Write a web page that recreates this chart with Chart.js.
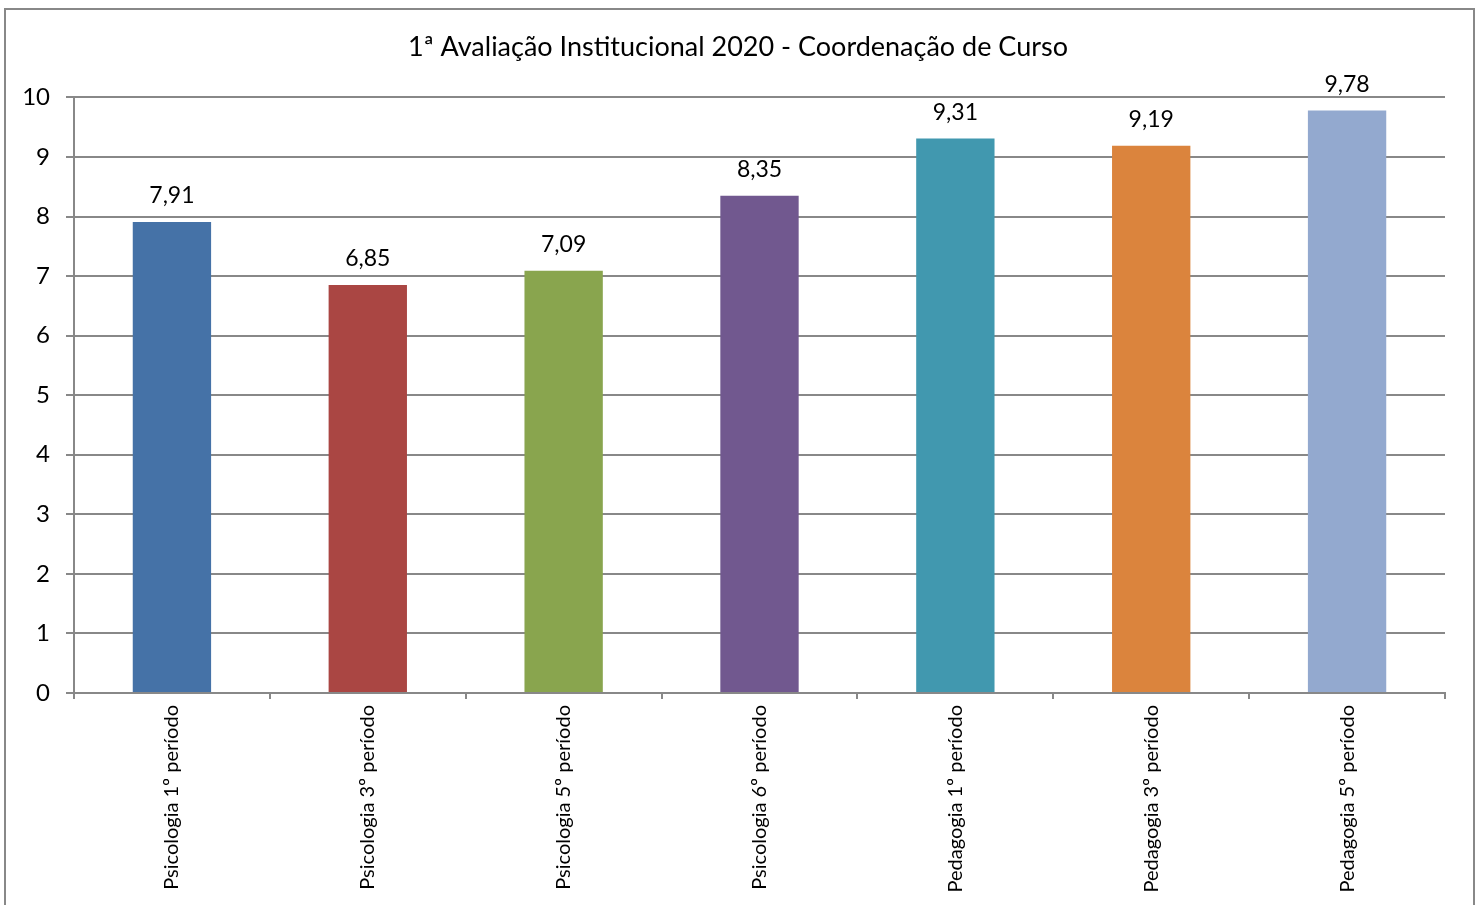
<!DOCTYPE html>
<html>
<head>
<meta charset="utf-8">
<script src="https://cdn.jsdelivr.net/npm/chart.js@4/dist/chart.umd.min.js"></script>
<style>
  html, body { margin: 0; padding: 0; background: #fff; }
  #wrap { position: absolute; left: 0; top: 0; width: 1476px; height: 905px; }
</style>
</head>
<body>
<div id="wrap"><canvas id="myChart" width="1476" height="905"></canvas></div>
<script>
// dados do grafico
var categories = ['Psicologia 1º período', 'Psicologia 3º período', 'Psicologia 5º período',
  'Psicologia 6º período', 'Pedagogia 1º período', 'Pedagogia 3º período', 'Pedagogia 5º período'];
var values = [7.91, 6.85, 7.09, 8.35, 9.31, 9.19, 9.78];
var barColors = ['#4572A7', '#AA4643', '#89A54E', '#71588F', '#4198AF', '#DB843D', '#93A9CF'];
var yTicks = [0, 1, 2, 3, 4, 5, 6, 7, 8, 9, 10];

var fontName = 'Lato, "Open Sans", sans-serif';

// moldura em volta do grafico
var framePlugin = {
  id: 'frame',
  beforeDraw: function(chart) {
    var c = chart.ctx;
    c.save();
    c.fillStyle = '#fff';
    c.fillRect(0, 0, chart.width, chart.height);
    c.strokeStyle = '#888';
    c.lineWidth = 2;
    c.strokeRect(5, 9, 1469, 920);
    c.restore();
  }
};

// valores em cima das barras
var labelPlugin = {
  id: 'barLabels',
  afterDatasetsDraw: function(chart) {
    var c = chart.ctx;
    var meta = chart.getDatasetMeta(0);
    c.save();
    c.font = '23px ' + fontName;
    c.fillStyle = '#000';
    c.textAlign = 'center';
    c.textBaseline = 'middle';
    meta.data.forEach(function(bar, i) {
      c.fillText(values[i].toFixed(2).replace('.', ','), bar.x, bar.y - 26);
    });
    c.restore();
  }
};

var ctx = document.getElementById('myChart').getContext('2d');
var myChart = new Chart(ctx, {
  type: 'bar',
  data: {
    labels: categories,
    datasets: [{
      data: values,
      backgroundColor: barColors,
      borderWidth: 0,
      categoryPercentage: 1,
      barPercentage: 0.4
    }]
  },
  options: {
    responsive: false,
    animation: false,
    layout: { padding: 0 },
    plugins: {
      legend: { display: false },
      tooltip: { enabled: false },
      title: {
        display: true,
        text: '1ª Avaliação Institucional 2020 - Coordenação de Curso',
        color: '#000',
        font: { family: fontName, size: 27, weight: 'normal' },
        padding: { top: 31, bottom: 34 }
      }
    },
    scales: {
      x: {
        offset: true,
        afterFit: function(s) { s.height = 212; },
        grid: { offset: true, drawOnChartArea: false, color: '#888', lineWidth: 2, tickLength: 6 },
        border: { color: '#888', width: 2 },
        ticks: {
          color: '#000',
          font: { family: fontName, size: 20 },
          minRotation: 90,
          maxRotation: 90,
          padding: 6
        }
      },
      y: {
        min: 0,
        max: 10,
        afterFit: function(s) { s.width = 74; },
        afterBuildTicks: function(s) { s.ticks = yTicks.map(function(v) { return { value: v }; }); },
        grid: { color: '#888', lineWidth: 2, tickLength: 8 },
        border: { color: '#888', width: 2 },
        ticks: {
          color: '#000',
          font: { family: fontName, size: 24 },
          padding: 16
        }
      },
      // espaco vazio a direita
      yRight: {
        position: 'right',
        min: 0,
        max: 10,
        afterFit: function(s) { s.width = 31; },
        grid: { display: false },
        border: { display: false },
        ticks: { display: false }
      }
    }
  },
  plugins: [framePlugin, labelPlugin]
});
</script>
</body>
</html>
